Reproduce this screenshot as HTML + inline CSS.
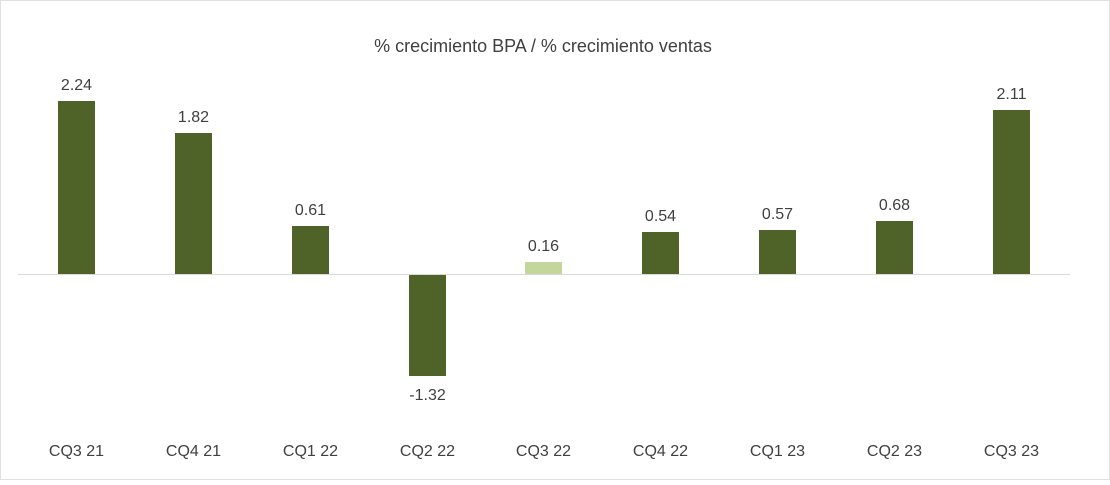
<!DOCTYPE html>
<html><head><meta charset="utf-8"><style>
body{margin:0;background:#fff;}
svg text{font-family:"Liberation Sans",Arial,sans-serif;fill:#404040;}
</style></head><body>
<svg width="1110" height="480" viewBox="0 0 1110 480" xmlns="http://www.w3.org/2000/svg">
<rect x="0.5" y="0.5" width="1109" height="479" fill="#fff" stroke="#e0e0e0"/>
<text x="543" y="52" font-size="18" text-anchor="middle">% crecimiento BPA / % crecimiento ventas</text>
<line x1="18" y1="274.5" x2="1070" y2="274.5" stroke="#d9d9d9" stroke-width="1"/>
<g fill="#4f6228">
<rect x="58" y="101" width="37" height="173"/>
<rect x="175" y="133" width="37" height="141"/>
<rect x="292" y="226" width="37" height="48"/>
<rect x="409" y="275" width="37" height="101"/>
<rect x="642" y="232" width="37" height="42"/>
<rect x="759" y="230" width="37" height="44"/>
<rect x="876" y="221" width="37" height="53"/>
<rect x="993" y="110" width="37" height="164"/>
</g>
<rect x="525" y="262" width="37" height="12" fill="#c3d69b"/>
<g font-size="16" text-anchor="middle">
<text x="76.5" y="90">2.24</text>
<text x="193.5" y="122">1.82</text>
<text x="310.5" y="215">0.61</text>
<text x="427.5" y="400">-1.32</text>
<text x="543.5" y="251">0.16</text>
<text x="660.5" y="221">0.54</text>
<text x="777.5" y="219">0.57</text>
<text x="894.5" y="210">0.68</text>
<text x="1011.5" y="99">2.11</text>
</g>
<g font-size="16" text-anchor="middle">
<text x="76.5" y="456">CQ3 21</text>
<text x="193.5" y="456">CQ4 21</text>
<text x="310.5" y="456">CQ1 22</text>
<text x="427.5" y="456">CQ2 22</text>
<text x="543.5" y="456">CQ3 22</text>
<text x="660.5" y="456">CQ4 22</text>
<text x="777.5" y="456">CQ1 23</text>
<text x="894.5" y="456">CQ2 23</text>
<text x="1011.5" y="456">CQ3 23</text>
</g>
</svg>
</body></html>
